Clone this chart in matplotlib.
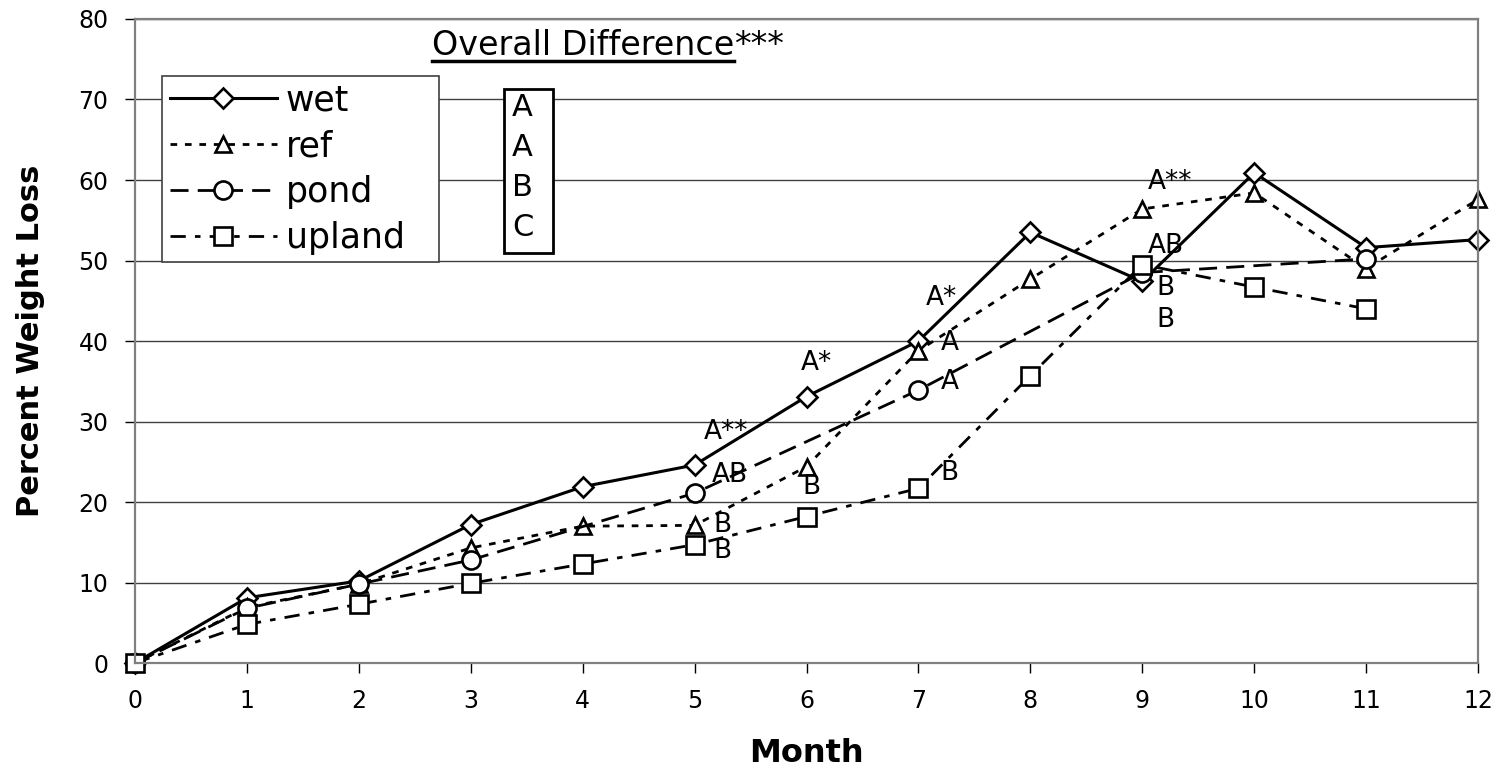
import matplotlib
matplotlib.use('Agg')
from matplotlib import pyplot as plt
from matplotlib.patches import Rectangle
from matplotlib.lines import Line2D

# data
months = list(range(13))
wet = [0, 8.1, 10.2, 17.2, 21.9, 24.6, 33.1, 40.0, 53.5, 47.4, 60.9, 51.6, 52.6]
ref = [0, 6.9, 9.8, 14.3, 17.0, 17.1, 24.4, 38.8, 47.7, 56.4, 58.4, 49.0, 57.6]
pond_months = [0, 1, 2, 3, 5, 7, 9, 11]
pond = [0, 6.8, 9.8, 12.8, 21.1, 33.9, 48.5, 50.2]
upland_months = list(range(12))
upland = [0, 4.8, 7.3, 9.9, 12.3, 14.7, 18.2, 21.7, 35.7, 49.5, 46.7, 44.0]

# significance letters next to the points
ann_x = [5.08, 5.15, 5.17, 5.17, 5.95, 5.96, 7.07, 7.2, 7.2, 7.2, 9.05, 9.05, 9.13, 9.13]
ann_y = [28.7, 23.4, 17.1, 13.9, 37.3, 21.9, 45.3, 39.7, 34.9, 23.6, 59.8, 51.8, 46.6, 42.6]
ann_text = ['A**', 'AB', 'B', 'B', 'A*', 'B', 'A*', 'A', 'A', 'B', 'A**', 'AB', 'B', 'B']

overall_letters = ['A', 'A', 'B', 'C']


def plotter():
    fig = plt.figure(figsize=(14.98, 7.69), dpi=100)
    ax = fig.add_axes([0.0901, 0.1378, 0.8966, 0.8375])

    mk = dict(markerfacecolor='white', markeredgecolor='black', markeredgewidth=1.9,
              color='black', clip_on=False)
    ax.plot(months, wet, label='wet', marker='D', ms=10, lw=2.2, ls='solid', **mk)
    ax.plot(months, ref, label='ref', marker='^', ms=12, lw=2.0,
            ls=(0, (2.4, 2.8)), **mk)
    ax.plot(pond_months, pond, label='pond', marker='o', ms=13, lw=2.0,
            ls=(0, (6.5, 3.3)), **mk)
    ax.plot(upland_months, upland, label='upland', marker='s', ms=13, lw=2.0,
            ls=(0, (5.5, 3.3, 2.0, 3.3)), **mk)

    ax.set_xlim(0, 12)
    ax.set_ylim(0, 80)
    ax.set_xticks(months)
    ax.set_yticks(range(0, 81, 10))
    ax.tick_params(axis='both', labelsize=17, length=7, width=1, pad=12, color='black')
    ax.yaxis.grid(True, color='#404040', lw=1.0)
    ax.set_axisbelow(True)
    for s in ax.spines.values():
        s.set_color('#808080')
        s.set_linewidth(1.6)

    ax.set_xlabel('Month', fontsize=23, fontweight='bold', labelpad=18)
    ax.set_ylabel('Percent Weight Loss', fontsize=22, fontweight='bold', labelpad=24)

    for x, y, t in zip(ann_x, ann_y, ann_text):
        ax.text(x, y, t, fontsize=19, ha='left', va='center')

    leg = ax.legend(loc='upper left', bbox_to_anchor=(0.0201, 0.624, 0.2063, 0.288),
                    mode='expand', borderaxespad=0,
                    fontsize=25, handlelength=3.1, handletextpad=0.25, labelspacing=0.34,
                    borderpad=0.22, fancybox=False, framealpha=1)
    leg.get_frame().set_edgecolor('#404040')
    leg.get_frame().set_linewidth(1.2)

    # box with overall letters
    ax.add_patch(Rectangle((0.2748, 0.6366), 0.0365, 0.2547, transform=ax.transAxes,
                           facecolor='white', edgecolor='black', lw=2, zorder=5))
    for i, l in enumerate(overall_letters):
        ax.text(0.2807, 0.862 - i * 0.0617, l, transform=ax.transAxes, fontsize=22,
                ha='left', va='center', zorder=6)

    t = ax.text(0.2211, 0.944, 'Overall Difference', transform=ax.transAxes,
                fontsize=24, ha='left', va='baseline')
    ax.annotate('***', xy=(1, 0), xycoords=t, fontsize=24, ha='left', va='bottom')

    fig.canvas.draw()
    bb = t.get_window_extent()
    W, H = fig.bbox.width, fig.bbox.height
    yy = (bb.y0 + 1) / H
    fig.add_artist(Line2D([bb.x0 / W, bb.x1 / W], [yy, yy], transform=fig.transFigure,
                          color='black', lw=2.5))

    fig.savefig('out.png', dpi=100)


if __name__ == '__main__':
    plotter()
